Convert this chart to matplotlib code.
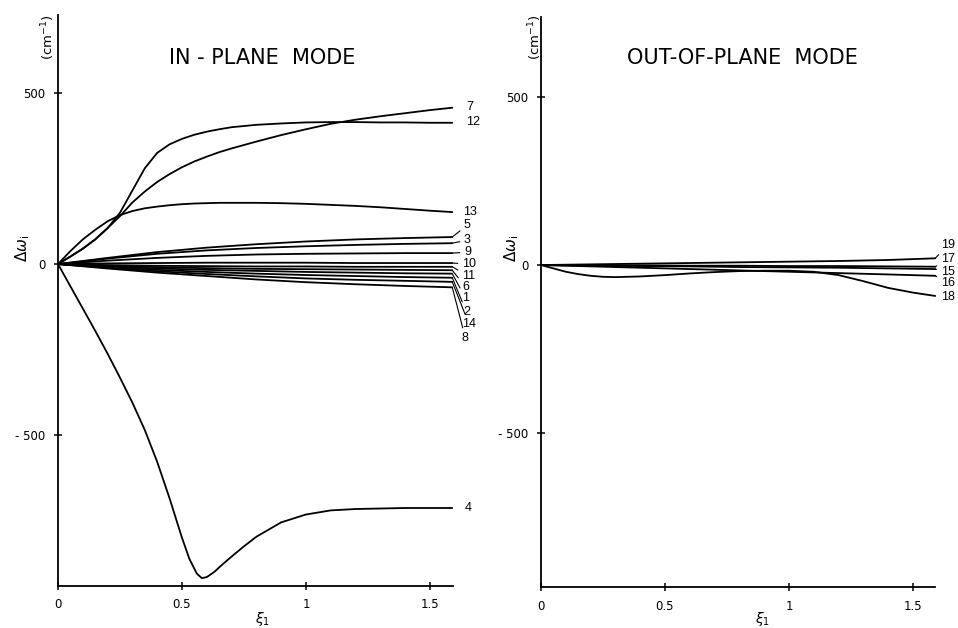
import matplotlib
matplotlib.use("Agg")
import matplotlib.pyplot as plt

# ---------------- data ----------------
xi = [0, 0.05, 0.1, 0.15, 0.2, 0.25, 0.3, 0.35, 0.4, 0.45, 0.5, 0.55, 0.6,
      0.65, 0.7, 0.8, 0.9, 1.0, 1.1, 1.2, 1.3, 1.4, 1.5, 1.59]
mode12 = [0, 22, 45, 72, 105, 150, 215, 280, 325, 350, 366, 378, 387, 394,
          400, 407, 411, 414, 415, 415, 414, 414, 413, 413]
mode7 = [0, 22, 45, 72, 105, 140, 180, 212, 240, 263, 283, 300, 314, 327,
         338, 358, 377, 394, 410, 422, 432, 441, 450, 457]
mode13 = [0, 38, 72, 100, 125, 143, 155, 163, 168, 172, 175, 177, 178, 179,
          179, 179, 178, 176, 173, 170, 166, 161, 156, 152]

xi4 = [0, 0.05, 0.1, 0.15, 0.2, 0.25, 0.3, 0.35, 0.4, 0.45, 0.5, 0.53, 0.56,
       0.58, 0.6, 0.63, 0.66, 0.7, 0.75, 0.8, 0.9, 1.0, 1.1, 1.2, 1.4, 1.59]
mode4 = [0, -65, -130, -195, -262, -332, -405, -485, -578, -685, -800, -862,
         -905, -918, -915, -900, -880, -855, -825, -797, -755, -732, -720,
         -716, -713, -713]

xi_b = [0, 0.2, 0.4, 0.6, 0.8, 1.0, 1.2, 1.4, 1.59]
mode5 = [0, 18, 35, 48, 58, 66, 72, 76, 79]
mode3 = [0, 16, 30, 40, 47, 52, 56, 59, 61]
mode9 = [0, 10, 18, 24, 28, 30, 31, 32, 32]
mode10 = [0, 2, 3, 4, 4, 4, 3, 3, 3]
mode11 = [0, -3, -5, -6, -7, -7, -8, -8, -8]
mode6 = [0, -5, -9, -12, -14, -15, -16, -17, -18]
mode1 = [0, -7, -13, -17, -20, -23, -25, -27, -28]
mode2 = [0, -9, -17, -23, -28, -32, -35, -38, -40]
mode14 = [0, -11, -21, -29, -36, -42, -46, -49, -52]
mode8 = [0, -13, -25, -35, -45, -53, -59, -64, -68]

xi_r = [0, 0.05, 0.1, 0.15, 0.2, 0.25, 0.3, 0.4, 0.5, 0.6, 0.7, 0.8, 0.9,
        1.0, 1.1, 1.2, 1.3, 1.4, 1.5, 1.59]
mode18 = [0, -10, -20, -27, -32, -35, -36, -34, -30, -25, -21, -18, -17,
          -17, -20, -30, -48, -68, -82, -92]
mode19 = [0, 2, 4, 6, 8, 10, 12, 15, 20]
mode17 = [0, -1, -1, -2, -2, -3, -3, -4, -5]
mode15 = [0, -2, -3, -4, -6, -7, -8, -10, -12]
mode16 = [0, -4, -8, -12, -16, -20, -24, -28, -32]

left_series = [("7", xi, mode7), ("12", xi, mode12), ("13", xi, mode13),
               ("5", xi_b, mode5), ("3", xi_b, mode3), ("9", xi_b, mode9),
               ("10", xi_b, mode10), ("11", xi_b, mode11), ("6", xi_b, mode6),
               ("1", xi_b, mode1), ("2", xi_b, mode2), ("14", xi_b, mode14),
               ("8", xi_b, mode8), ("4", xi4, mode4)]
right_series = [("19", xi_b, mode19), ("17", xi_b, mode17),
                ("15", xi_b, mode15), ("16", xi_b, mode16),
                ("18", xi_r, mode18)]

# label positions (layout): (x, y, leader?)
left_label_pos = {"7": (1.645, 459, False), "12": (1.645, 415, False),
                  "13": (1.633, 152, False), "5": (1.637, 114, True),
                  "3": (1.637, 70, True), "9": (1.637, 35, True),
                  "10": (1.629, 0, True), "11": (1.629, -35, True),
                  "6": (1.629, -67, True), "1": (1.629, -99, True),
                  "2": (1.633, -140, True), "14": (1.629, -175, True),
                  "8": (1.629, -216, True), "4": (1.640, -713, False)}
right_label_pos = {"19": (1.612, 60, True), "17": (1.612, 18, True),
                   "15": (1.612, -21, True), "16": (1.612, -54, True),
                   "18": (1.612, -95, False)}

xticks = [0, 0.5, 1, 1.5]
xticklabels = ["0", "0.5", "1", "1.5"]
yticks = [-500, 0, 500]
yticklabels = ["- 500", "0", "500"]

# ---------------- figure ----------------
plt.rcParams['font.family'] = ['DejaVu Sans']
fig = plt.figure(figsize=(9.58, 6.28), dpi=100)

ax1 = fig.add_axes([58 / 958, 42 / 628, 395 / 958, 571 / 628])
ax2 = fig.add_axes([541 / 958, 41 / 628, 394 / 958, 570 / 628])


def style(ax, xmax, ylo, yhi):
    ax.set_xlim(0, xmax)
    ax.set_ylim(ylo, yhi)
    for s in ("top", "right"):
        ax.spines[s].set_visible(False)
    for s in ("left", "bottom"):
        ax.spines[s].set_linewidth(1.3)
    ax.set_xticks(xticks)
    ax.set_xticklabels(xticklabels, fontsize=8.5)
    ax.set_yticks(yticks)
    ax.set_yticklabels(yticklabels, fontsize=8.5)
    ax.tick_params(direction="inout", length=6, width=1.1, pad=6)


style(ax1, 1.593, -941, 728)
style(ax2, 1.589, -958, 738)

LBL_FONT = dict(family=["Liberation Sans", "DejaVu Sans"], fontsize=9)


def draw(ax, series, pos):
    for name, x, y in series:
        ax.plot(x, y, color="black", lw=1.3, solid_capstyle="round",
                solid_joinstyle="round", clip_on=False)
        lx, ly, leader = pos[name]
        if leader:
            ax.annotate(name, xy=(x[-1], y[-1]), xytext=(lx, ly),
                        textcoords="data", ha="left", va="center",
                        annotation_clip=False, **LBL_FONT,
                        arrowprops=dict(arrowstyle="-", lw=0.8,
                                        color="black", shrinkA=1, shrinkB=0))
        else:
            ax.text(lx, ly, name, ha="left", va="center", clip_on=False,
                    **LBL_FONT)


draw(ax1, left_series, left_label_pos)
draw(ax2, right_series, right_label_pos)

# titles
fig.text(262 / 958, 1 - 58 / 628, "IN - PLANE  MODE", ha="center",
         va="center", fontsize=15)
fig.text(742 / 958, 1 - 58 / 628, "OUT-OF-PLANE  MODE", ha="center",
         va="center", fontsize=15)

# axis labels
for xl, xu, xx in [(23, 48, 263), (512, 535, 763)]:
    fig.text(xl / 958, 1 - 248 / 628, r"$\Delta\omega_{\rm i}$", rotation=90,
             ha="center", va="center", fontsize=11)
    fig.text(xu / 958, 1 - 37 / 628, r"(cm$^{-1}$)", rotation=90,
             ha="center", va="center", fontsize=9.5)
    fig.text(xx / 958, 1 - 619 / 628, r"$\xi_1$", ha="center", va="center",
             fontsize=10)

fig.savefig("out.png", dpi=100)
